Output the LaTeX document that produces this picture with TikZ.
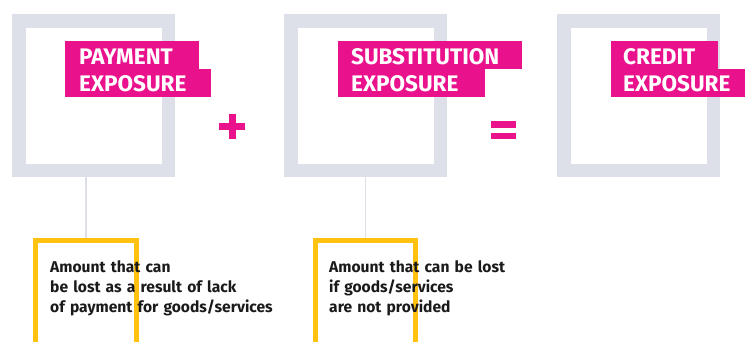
\documentclass[tikz,border=0pt]{standalone}
\usepackage{fontspec}
\setmainfont{Fira Sans}
\usetikzlibrary{backgrounds}
\definecolor{pinkc}{HTML}{EA118D}
\definecolor{framec}{HTML}{DDE0E8}
\definecolor{yellowc}{HTML}{FFC20E}
\definecolor{textc}{HTML}{1A1A1A}
\begin{document}
\begin{tikzpicture}[x=1pt,y=-1pt,
  frame/.style={draw=framec, line width=13.5pt, minimum width=149.5pt, minimum height=149.5pt, inner sep=0pt},
  notebox/.style={draw=yellowc, line width=5pt, minimum height=130pt, inner sep=0pt},
  labelbar/.style={fill=pinkc, inner sep=0pt, anchor=north west, minimum height=28pt},
  labeltext/.style={text=white, font=\fontsize{22.5}{28}\selectfont\bfseries, inner sep=0pt, anchor=base west},
  desc/.style={text=textc, font=\fontsize{15.6}{20}\selectfont\bfseries, inner sep=0pt, anchor=base west, align=left, text width=260pt},
  conn/.style={draw=framec, line width=1.5pt},
  opbar/.style={fill=pinkc, inner sep=0pt}
]
\useasboundingbox (0,0) rectangle (745,341);
\clip (0,0) rectangle (745,341);

% frames
\node[frame] (f1) at (93.5,95.5) {};
\node[frame] (f2) at (365.5,95.5) {};
\node[frame] (f3) at (638.5,95.5) {};

% labels
\node[labelbar, minimum width=134pt] (b1a) at (65,41) {};
\node[labelbar, minimum width=146pt] (b1b) at (65,68.5) {};
\node[labeltext] (t1a) at (79,64) {PAYMENT};
\node[labeltext] (t1b) at (79,91) {EXPOSURE};

\node[labelbar, minimum width=184pt] (b2a) at (338,41) {};
\node[labelbar, minimum width=147pt] (b2b) at (338,68.5) {};
\node[labeltext] (t2a) at (351,64) {SUBSTITUTION};
\node[labeltext] (t2b) at (351,91) {EXPOSURE};

\node[labelbar, minimum width=107pt] (b3a) at (611,41) {};
\node[labelbar, minimum width=140pt] (b3b) at (611,68.5) {};
\node[labeltext] (t3a) at (623,64) {CREDIT};
\node[labeltext] (t3b) at (623,91) {EXPOSURE};

% operators
\node[opbar, minimum width=26pt, minimum height=7pt] (plush) at (232,126) {};
\node[opbar, minimum width=7pt, minimum height=25pt] (plusv) at (232,126) {};
\node[opbar, minimum width=25pt, minimum height=7pt] (eqa) at (503.5,124.5) {};
\node[opbar, minimum width=25pt, minimum height=6.5pt] (eqb) at (503.5,136) {};

% notes
\node[notebox, minimum width=101pt] (n1) at (86,305.5) {};
\node[notebox, minimum width=100pt] (n2) at (365.5,305.5) {};

\begin{pgfonlayer}{background}
\draw[conn] (n1.north) -- (n1.north |- f1.south);
\draw[conn] (n2.north) -- (n2.north |- f2.south);
\end{pgfonlayer}

\node[desc] (d1) at (50,272) {Amount that can\\be lost as a result of lack\\of payment for goods/services};
\node[desc] (d2) at (329,272) {Amount that can be lost\\if goods/services\\are not provided};
\end{tikzpicture}
\end{document}
